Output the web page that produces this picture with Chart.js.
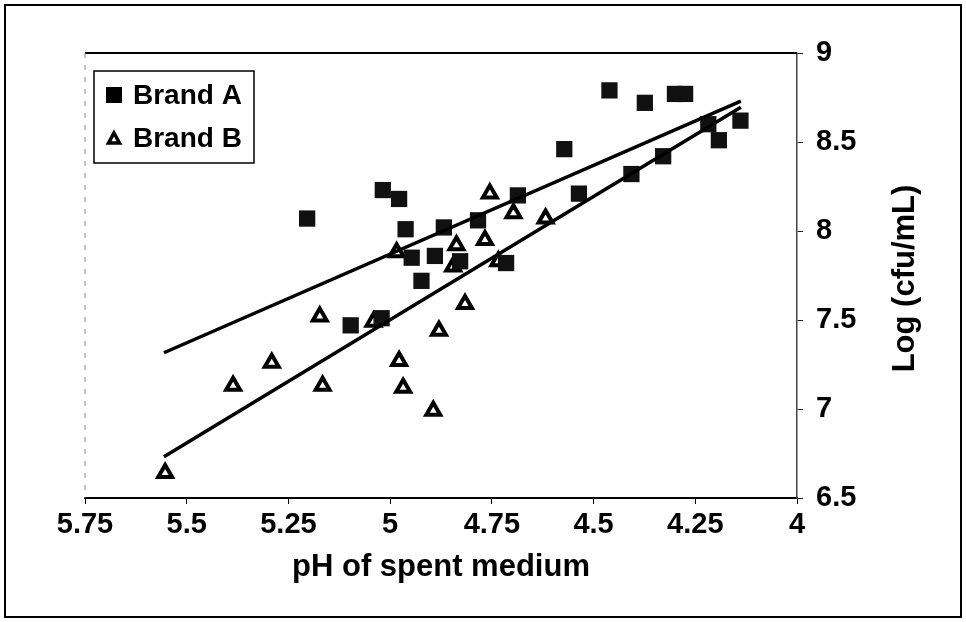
<!DOCTYPE html>
<html>
<head>
<meta charset="utf-8">
<script src="https://cdn.jsdelivr.net/npm/chart.js@4.4.0/dist/chart.umd.min.js"></script>
<style>
  body { margin: 0; background: #fff; }
  canvas { display: block; }
</style>
</head>
<body>
<canvas id="chart" width="966" height="622"></canvas>
<script>
// Brand A (squares)
var brandApH  = [5.204, 5.018, 4.978, 4.962, 4.868, 4.947, 4.890, 4.923, 5.097, 5.021, 4.828, 4.784, 4.715,
                 4.686, 4.572, 4.461, 4.374, 4.300, 4.275, 4.139, 4.192, 4.218, 4.329, 4.407, 4.536];
var brandALog = [8.07, 8.23, 8.18, 8.01, 8.02, 7.85, 7.86, 7.72, 7.47, 7.51, 7.83, 8.06, 7.82,
                 8.20, 8.46, 8.79, 8.72, 8.77, 8.77, 8.62, 8.51, 8.60, 8.42, 8.32, 8.21];

// Brand B (open triangles)
var brandBpH  = [5.553, 5.386, 5.291, 5.173, 5.166, 5.041, 4.984, 4.978, 4.968, 4.894, 4.880, 4.845,
                 4.837, 4.816, 4.767, 4.755, 4.734, 4.697, 4.618];
var brandBLog = [6.64, 7.13, 7.26, 7.52, 7.13, 7.49, 7.88, 7.27, 7.12, 6.99, 7.44, 7.80,
                 7.92, 7.59, 7.95, 8.21, 7.83, 8.10, 8.07];

// trend lines (end points)
var trendApH  = [5.556, 4.138];
var trendALog = [7.316, 8.73];
var trendBpH  = [5.556, 4.138];
var trendBLog = [6.732, 8.695];

var xTicks = [5.75, 5.5, 5.25, 5, 4.75, 4.5, 4.25, 4];
var yTicks = [6.5, 7, 7.5, 8, 8.5, 9];

function pts(xs, ys) {
  return xs.map(function (x, i) { return { x: x, y: ys[i] }; });
}

var FONT = "'Liberation Sans', Arial, sans-serif";

// frame lines, outer border, legend box and the right-hand axis title
var decor = {
  id: 'decor',
  afterDraw: function (chart) {
    var c = chart.ctx, a = chart.chartArea;
    c.save();
    // outer border
    c.strokeStyle = '#000';
    c.lineWidth = 2;
    c.strokeRect(5, 5, chart.width - 10, chart.height - 10);
    // top of plot area
    c.beginPath();
    c.moveTo(a.left, a.top);
    c.lineTo(a.right, a.top);
    c.stroke();
    // left of plot area (faint dashed)
    c.lineWidth = 1;
    c.strokeStyle = '#888';
    c.setLineDash([5, 7]);
    c.beginPath();
    c.moveTo(a.left, a.top);
    c.lineTo(a.left, a.bottom);
    c.stroke();
    c.setLineDash([]);

    // legend
    var lx = a.left + 9, ly = a.top + 18;
    c.strokeStyle = '#000';
    c.lineWidth = 1.5;
    c.strokeRect(lx, ly, 160, 92);
    c.font = 'bold 28px ' + FONT;
    c.fillStyle = '#000';
    c.textBaseline = 'middle';
    c.textAlign = 'left';
    // square
    c.fillRect(lx + 12, ly + 16, 16, 16);
    c.fillText(chart.data.datasets[2].label, lx + 39, ly + 25);
    // triangle
    var tx = lx + 20, ty = ly + 68;
    c.beginPath();
    c.moveTo(tx, ty - 6);
    c.lineTo(tx + 5.5, ty + 4);
    c.lineTo(tx - 5.5, ty + 4);
    c.closePath();
    c.fillStyle = '#fff';
    c.fill();
    c.lineWidth = 3.5;
    c.stroke();
    c.fillStyle = '#000';
    c.fillText(chart.data.datasets[3].label, lx + 39, ty);

    // y title, reading bottom to top
    var ys = chart.scales.y;
    c.translate(ys.left + 108, (a.top + a.bottom) / 2 + 3);
    c.rotate(-Math.PI / 2);
    c.textAlign = 'center';
    c.font = 'bold 31px ' + FONT;
    c.fillText('Log (cfu/mL)', 0, 0);
    c.restore();
  }
};

new Chart(document.getElementById('chart'), {
  type: 'scatter',
  data: {
    datasets: [
      {
        label: 'Trend A',
        data: pts(trendApH, trendALog),
        showLine: true,
        pointRadius: 0,
        borderColor: '#000',
        borderWidth: 3.5,
        order: 0
      },
      {
        label: 'Trend B',
        data: pts(trendBpH, trendBLog),
        showLine: true,
        pointRadius: 0,
        borderColor: '#000',
        borderWidth: 3.5,
        order: 0
      },
      {
        label: 'Brand A',
        data: pts(brandApH, brandALog),
        pointStyle: 'rect',
        pointRadius: 11.5,
        backgroundColor: '#111',
        borderColor: '#111',
        borderWidth: 0,
        order: 1
      },
      {
        label: 'Brand B',
        data: pts(brandBpH, brandBLog),
        pointStyle: 'triangle',
        pointRadius: 8,
        backgroundColor: '#fff',
        borderColor: '#000',
        borderWidth: 4,
        order: 1
      }
    ]
  },
  options: {
    responsive: false,
    animation: false,
    devicePixelRatio: 1,
    layout: { padding: { left: 85, top: 53, right: 0, bottom: 0 } },
    plugins: {
      legend: { display: false },
      tooltip: { enabled: false }
    },
    scales: {
      x: {
        type: 'linear',
        position: 'bottom',
        reverse: true,
        min: 4,
        max: 5.75,
        afterBuildTicks: function (s) { s.ticks = xTicks.map(function (v) { return { value: v }; }); },
        afterFit: function (s) { s.height = 124; },
        ticks: {
          color: '#000',
          padding: 4,
          font: { family: FONT, size: 29, weight: 'bold' },
          callback: function (v) { return String(v); }
        },
        grid: { drawOnChartArea: false, drawTicks: true, tickLength: 6, color: '#000' },
        border: { color: '#000', width: 2 },
        title: {
          display: true,
          text: 'pH of spent medium',
          color: '#000',
          font: { family: FONT, size: 31, weight: 'bold' },
          padding: { top: 0, bottom: 36 }
        }
      },
      y: {
        type: 'linear',
        position: 'right',
        min: 6.5,
        max: 9,
        afterBuildTicks: function (s) { s.ticks = yTicks.map(function (v) { return { value: v }; }); },
        afterFit: function (s) { s.width = 169; },
        ticks: {
          color: '#000',
          padding: 13,
          font: { family: FONT, size: 29, weight: 'bold' },
          callback: function (v) { return String(v); }
        },
        grid: { drawOnChartArea: false, drawTicks: true, tickLength: 6, color: '#222' },
        border: { color: '#444', width: 1.5, dash: [7, 4] }
      }
    }
  },
  plugins: [decor]
});
</script>
</body>
</html>
